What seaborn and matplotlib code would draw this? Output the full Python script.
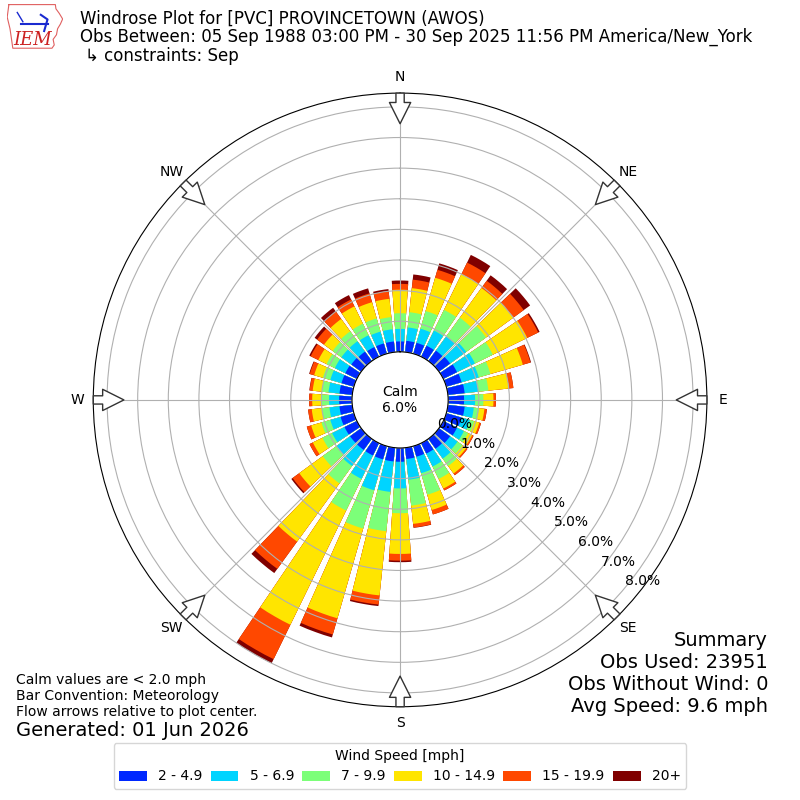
import numpy as np
import pandas as pd
import matplotlib
matplotlib.use("Agg")
import matplotlib.pyplot as plt
from matplotlib.patches import Patch
import seaborn as sns

# direction bins (degrees, meteorological convention)
directions = list(range(0, 360, 10))
speed_bins = ["2 - 4.9", "5 - 6.9", "7 - 9.9", "10 - 14.9", "15 - 19.9", "20+"]
bin_colors = ["#0028ff", "#00d4ff", "#7cff79", "#ffe500", "#ff4800", "#800000"]

# frequency (%) per speed bin for every direction bin
spd_2_5 = [0.34, 0.37, 0.37, 0.40, 0.42, 0.45, 0.50, 0.52, 0.55, 0.52, 0.55, 0.52,
           0.50, 0.45, 0.40, 0.38, 0.36, 0.37, 0.45, 0.45, 0.45, 0.45, 0.45, 0.45,
           0.45, 0.45, 0.42, 0.42, 0.42, 0.42, 0.42, 0.40, 0.38, 0.35, 0.35, 0.35]
spd_5_7 = [0.41, 0.44, 0.48, 0.55, 0.58, 0.65, 0.65, 0.58, 0.45, 0.36, 0.30, 0.28,
           0.25, 0.30, 0.40, 0.47, 0.56, 0.68, 0.87, 1.00, 1.05, 0.85, 0.65, 0.55,
           0.45, 0.35, 0.33, 0.33, 0.36, 0.38, 0.38, 0.40, 0.42, 0.43, 0.40, 0.40]
spd_7_10 = [0.51, 0.50, 0.60, 0.75, 0.75, 0.80, 0.65, 0.40, 0.33, 0.27, 0.17, 0.15,
            0.15, 0.20, 0.30, 0.45, 0.73, 0.85, 0.81, 1.29, 1.30, 1.15, 0.70, 0.55,
            0.35, 0.30, 0.25, 0.25, 0.22, 0.25, 0.30, 0.35, 0.40, 0.42, 0.45, 0.40]
spd_10_15 = [0.77, 0.79, 1.13, 1.30, 1.20, 1.10, 1.25, 1.10, 0.67, 0.33, 0.18, 0.17,
             0.15, 0.15, 0.30, 0.35, 0.52, 0.60, 1.33, 2.11, 3.05, 4.15, 2.35, 0.95,
             0.35, 0.35, 0.33, 0.30, 0.30, 0.30, 0.30, 0.35, 0.50, 0.63, 0.55, 0.60]
spd_15_20 = [0.19, 0.28, 0.27, 0.42, 0.29, 0.42, 0.40, 0.26, 0.15, 0.08, 0.08, 0.06,
             0.05, 0.05, 0.07, 0.07, 0.15, 0.12, 0.22, 0.30, 0.55, 1.25, 1.10, 0.27,
             0.12, 0.15, 0.12, 0.10, 0.10, 0.15, 0.28, 0.28, 0.30, 0.25, 0.30, 0.25]
spd_20p = [0.11, 0.17, 0.22, 0.28, 0.22, 0.26, 0.05, 0.02, 0.00, 0.00, 0.00, 0.00,
           0.00, 0.00, 0.00, 0.00, 0.00, 0.01, 0.05, 0.05, 0.10, 0.15, 0.17, 0.05,
           0.00, 0.00, 0.00, 0.00, 0.01, 0.02, 0.05, 0.10, 0.15, 0.16, 0.17, 0.07]

calm_pct = 6.0
rose_max = 8.45
calm_hole = 1.57

freqs = np.array([spd_2_5, spd_5_7, spd_7_10, spd_10_15, spd_15_20, spd_20p])
stacked = freqs.cumsum(axis=0)

rows = []
for k, name in enumerate(speed_bins):
    for d, val in zip(directions, stacked[k]):
        rows.append({"theta": np.deg2rad(d), "cum": val, "bin": name})
df = pd.DataFrame(rows)

fig = plt.figure(figsize=(8, 8), dpi=100)
ax = fig.add_axes([0.1166, 0.1166, 0.767, 0.767], projection="polar")
ax.set_theta_zero_location("N")
ax.set_theta_direction(-1)

# draw from outermost (total) to innermost so each stack piece shows
for k in range(len(speed_bins) - 1, -1, -1):
    sub = df[df["bin"] == speed_bins[k]]
    sns.barplot(data=sub, x="theta", y="cum", native_scale=True, color=bin_colors[k],
                saturation=1, width=0.8, errorbar=None, linewidth=0, ax=ax)

ax.set_xlabel("")
ax.set_ylabel("")
ax.set_ylim(0, rose_max)
ax.set_rorigin(-calm_hole)
ax.set_rgrids(np.arange(0, 9), labels=[f"{v:.1f}%" for v in range(9)], angle=130)
ax.set_thetagrids(range(0, 360, 45), labels=["N", "NE", "E", "SE", "S", "SW", "W", "NW"])
ax.tick_params(axis="x", pad=1)

# flow arrows on the rim
for ang in range(0, 360, 45):
    t = np.deg2rad(ang)
    ax.annotate("", xy=(t, 7.45), xytext=(t, 8.45), annotation_clip=False, zorder=5,
                arrowprops=dict(arrowstyle="simple,head_length=0.9,head_width=0.9,tail_width=0.35",
                                fc="white", ec="#333333", lw=1, mutation_scale=17,
                                shrinkA=0, shrinkB=0))

fig.text(0.5, 0.5, f"Calm\n{calm_pct:.1f}%", ha="center", va="center", fontsize=10)

# small IEM logo in the corner
logo = fig.add_axes([0.009, 0.938, 0.07, 0.058])
logo.axis("off")
logo.set_xlim(0, 1)
logo.set_ylim(0, 1)
iowa_x = [0.03, 0.86, 0.87, 0.93, 0.99, 0.95, 0.90, 0.88, 0.82, 0.84, 0.80, 0.10, 0.08, 0.05, 0.00, 0.03]
iowa_y = [0.97, 0.97, 0.88, 0.78, 0.66, 0.55, 0.45, 0.32, 0.22, 0.10, 0.03, 0.03, 0.20, 0.45, 0.70, 0.97]
logo.plot(iowa_x, iowa_y, color="#e06060", lw=0.8)
logo.plot([0.25, 0.72], [0.55, 0.55], color="#1a2ad0", lw=1.5)
logo.plot([0.18, 0.28], [0.8, 0.6], color="#1a2ad0", lw=1)
logo.plot([0.6, 0.72, 0.66], [0.75, 0.65, 0.4], color="#1a2ad0", lw=1.5)
logo.text(0.45, 0.2, "IEM", color="#cc2222", fontsize=13, style="italic",
          family="DejaVu Serif", ha="center", va="center")

fig.text(0.1, 0.976, "Windrose Plot for [PVC] PROVINCETOWN (AWOS)", fontsize=12, va="center")
fig.text(0.1, 0.954, "Obs Between: 05 Sep 1988 03:00 PM - 30 Sep 2025 11:56 PM America/New_York",
         fontsize=12, va="center")
fig.text(0.106, 0.93, "\u21b3 constraints: Sep", fontsize=12, va="center")

summary = ["Summary", "Obs Used: 23951", "Obs Without Wind: 0", "Avg Speed: 9.6 mph"]
for i, line in enumerate(summary):
    fig.text(0.96, 0.2 - i * 0.0275, line, ha="right", va="center", fontsize=14)

notes = ["Calm values are < 2.0 mph", "Bar Convention: Meteorology",
         "Flow arrows relative to plot center."]
for i, line in enumerate(notes):
    fig.text(0.02, 0.15 - i * 0.02, line, ha="left", va="center", fontsize=10)
fig.text(0.02, 0.0875, "Generated: 01 Jun 2026", ha="left", va="center", fontsize=14)

handles = [Patch(facecolor=c, label=b) for b, c in zip(speed_bins, bin_colors)]
fig.legend(handles=handles, ncol=6, loc="lower center", bbox_to_anchor=(0.5, 0.005),
           title="Wind Speed [mph]", fontsize=10, title_fontsize=10, columnspacing=0.6)

fig.savefig("out.png", dpi=100)
